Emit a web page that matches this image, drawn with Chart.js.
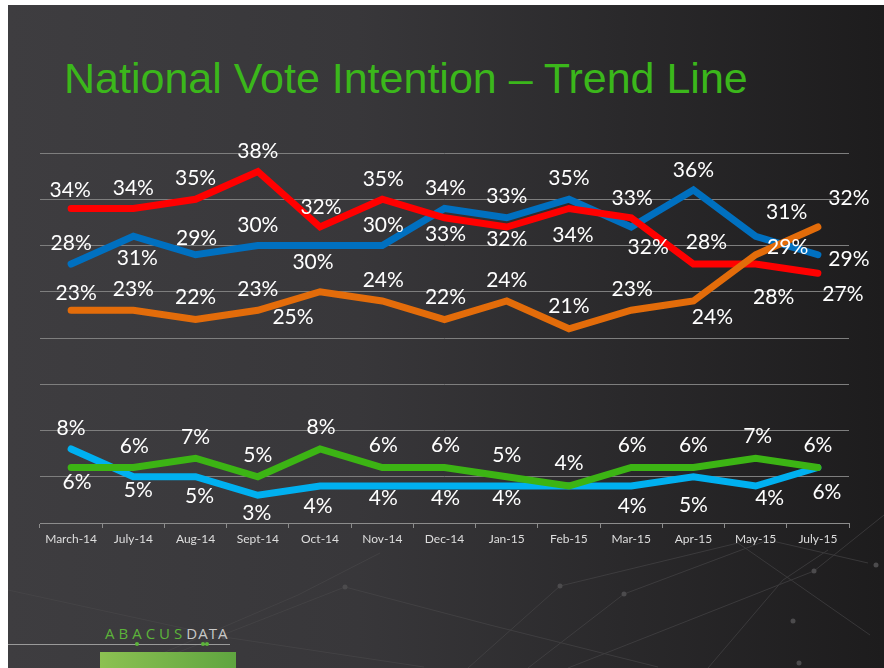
<!DOCTYPE html>
<html>
<head>
<meta charset="utf-8">
<script src="https://cdn.jsdelivr.net/npm/chart.js@4.4.1/dist/chart.umd.min.js"></script>
<style>
  html, body { margin: 0; padding: 0; background: #fff; }
  #slide {
    position: absolute; left: 8px; top: 5px; width: 876px; height: 663px; overflow: hidden;
    background: linear-gradient(to right, #3e3d40 0%, #38373a 40%, #2a292b 70%, #1d1c1d 100%);
  }
  #title {
    position: absolute; left: 56px; top: 49px; margin: 0;
    font: 43px "Liberation Sans", Arial, sans-serif; color: #3bb71b; white-space: nowrap;
  }
  #deco { position: absolute; left: 0; top: 0; }
  #chart { position: absolute; left: -8px; top: -5px; }
  #logo { position: absolute; left: 0; top: 612px; width: 240px; height: 60px; }
  #logo .name { position: absolute; left: 97px; top: 6px; font: 15px "Open Sans", sans-serif; letter-spacing: 4px; }
  #logo .g { color: #5cb43a; }
  #logo .d { color: #c8c8c8; letter-spacing: 1px; }
  #logo .rule { position: absolute; left: 0; top: 27px; width: 222px; height: 1px; background: #9a9a9a; }
  #logo .dot { position: absolute; top: 25px; width: 4px; height: 4px; border-radius: 2px; background: #5cb43a; }
  #logo .box { position: absolute; left: 92px; top: 35px; width: 136px; height: 20px;
    background: linear-gradient(to right, #8cc152, #5fa540); }
</style>
</head>
<body>
<div id="slide">
  <svg id="deco" width="876" height="663">
    <g stroke="#4a494b" stroke-width="1" fill="none" opacity="0.6">
      <polyline points="372,548 290,590 120,663"/>
      <polyline points="0,585 216,632 416,662"/>
      <polyline points="130,663 337,582 482,620 650,662"/>
      <polyline points="520,663 616,589 760,535 860,558"/>
      <polyline points="460,663 552,581 730,538 862,630"/>
      <polyline points="560,663 806,566 876,510"/>
      <polyline points="700,663 775,575 820,545"/>
    </g>
    <g fill="#4c4b4d">
      <circle cx="337" cy="582" r="2.5"/><circle cx="216" cy="632" r="2.5"/>
      <circle cx="616" cy="589" r="2.5"/><circle cx="552" cy="581" r="2.5"/>
      <circle cx="785" cy="616" r="2.5"/><circle cx="791" cy="658" r="2.5"/>
      <circle cx="806" cy="566" r="2.5"/><circle cx="868" cy="560" r="2.5"/>
    </g>
  </svg>
  <h1 id="title">National Vote Intention – Trend Line</h1>
  <div id="logo">
    <div class="name"><span class="g">ABACUS</span><span class="d">DATA</span></div>
    <div class="rule"></div>
    <div class="dot" style="left:127px"></div>
    <div class="dot" style="left:193px"></div>
    <div class="dot" style="left:197px"></div>
    <div class="box"></div>
  </div>
  <canvas id="chart" width="884" height="668"></canvas>
</div>

<script>
// Periods on the x axis
const periods = ['March-14', 'July-14', 'Aug-14', 'Sept-14', 'Oct-14', 'Nov-14', 'Dec-14',
  'Jan-15', 'Feb-15', 'Mar-15', 'Apr-15', 'May-15', 'July-15'];

// Vote intention (%) per party
const redSeries = [34, 34, 35, 38, 32, 35, 33, 32, 34, 33, 28, 28, 27];
const blueSeries = [28, 31, 29, 30, 30, 30, 34, 33, 35, 32, 36, 31, 29];
const orangeSeries = [23, 23, 22, 23, 25, 24, 22, 24, 21, 23, 24, 29, 32];
const greenSeries = [6, 6, 7, 5, 8, 6, 6, 5, 4, 6, 6, 7, 6];
const lightBlueSeries = [8, 5, 5, 3, 4, 4, 4, 4, 4, 4, 5, 4, 6];

// y axis range and grid step
const yMin = 0;
const yMax = 40;
const yStep = 5;

// where each value label sits relative to its point [dx, dy]; null = no label
const redLabelPos = [[-1,-18],[0,-20],[0,-21],[0,-20],[1,-20],[1,-20],[1,16],[0,12],[4,27],[1,-20],[13,-22],[18,33],[25,21]];
const blueLabelPos = [[0,-21],[4,22],[1,-17],[0,-20],[-7,17],[1,-20],[1,-20],[0,-22],[0,-21],[17,20],[0,-20],[31,-24],[31,4]];
const orangeLabelPos = [[5,-17],[0,-21],[0,-22],[0,-21],[-27,25],[1,-21],[1,-22],[0,-21],[0,-23],[1,-21],[19,16],[32,-8],[31,-29]];
const greenLabelPos = [[6,15],[1,-21],[0,-21],[0,-22],[1,-22],[1,-22],[1,-22],[0,-22],[0,-23],[1,-22],[0,-22],[2,-22],[0,-22]];
const lightBlueLabelPos = [[0,-21],[5,13],[4,19],[-1,18],[-2,20],[1,12],[1,12],[0,12],null,[1,20],[0,28],[14,12],[9,25]];

function line(data, color, labelPos, order) {
  return {
    data: data,
    borderColor: color,
    backgroundColor: color,
    borderWidth: 7,
    pointRadius: 0,
    tension: 0,
    fill: false,
    order: order,
    labelPos: labelPos,
    borderCapStyle: 'round',
    borderJoinStyle: 'miter'
  };
}

// draws the white "NN%" labels next to each point
const valueLabels = {
  id: 'valueLabels',
  afterDatasetsDraw(chart) {
    const ctx = chart.ctx;
    ctx.save();
    ctx.font = '21px Lato, "Open Sans", sans-serif';
    ctx.fillStyle = '#ffffff';
    ctx.textAlign = 'center';
    ctx.textBaseline = 'middle';
    chart.data.datasets.forEach((ds, i) => {
      const meta = chart.getDatasetMeta(i);
      meta.data.forEach((pt, j) => {
        const off = ds.labelPos[j];
        if (!off) return;
        ctx.fillText(ds.data[j] + '%', pt.x + off[0], pt.y + off[1]);
      });
    });
    ctx.restore();
  }
};

const ctx = document.getElementById('chart').getContext('2d');
new Chart(ctx, {
  type: 'line',
  data: {
    labels: periods,
    datasets: [
      line(greenSeries, '#3cb414', greenLabelPos, 1),
      line(lightBlueSeries, '#00b0f0', lightBlueLabelPos, 2),
      line(orangeSeries, '#e36c0a', orangeLabelPos, 3),
      line(redSeries, '#ff0000', redLabelPos, 4),
      line(blueSeries, '#0070c0', blueLabelPos, 5)
    ]
  },
  options: {
    responsive: false,
    animation: false,
    layout: { padding: { left: 40, right: 35, top: 153, bottom: 0 } },
    plugins: { legend: { display: false }, tooltip: { enabled: false } },
    scales: {
      x: {
        offset: true,
        afterFit(scale) { scale.height = 145; },
        grid: { drawOnChartArea: false, drawTicks: true, tickLength: 5, tickColor: '#8c8c8c', offset: true },
        border: { display: true, color: '#8c8c8c', width: 1 },
        ticks: { color: '#dedede', font: { family: 'Lato', size: 12 }, padding: 4, maxRotation: 0 }
      },
      y: {
        min: yMin,
        max: yMax,
        afterFit(scale) { scale.width = 0; },
        ticks: { display: false, stepSize: yStep },
        grid: { color: '#7e7e7e', lineWidth: 1, drawTicks: false },
        border: { display: false }
      }
    }
  },
  plugins: [valueLabels]
});
</script>
</body>
</html>
